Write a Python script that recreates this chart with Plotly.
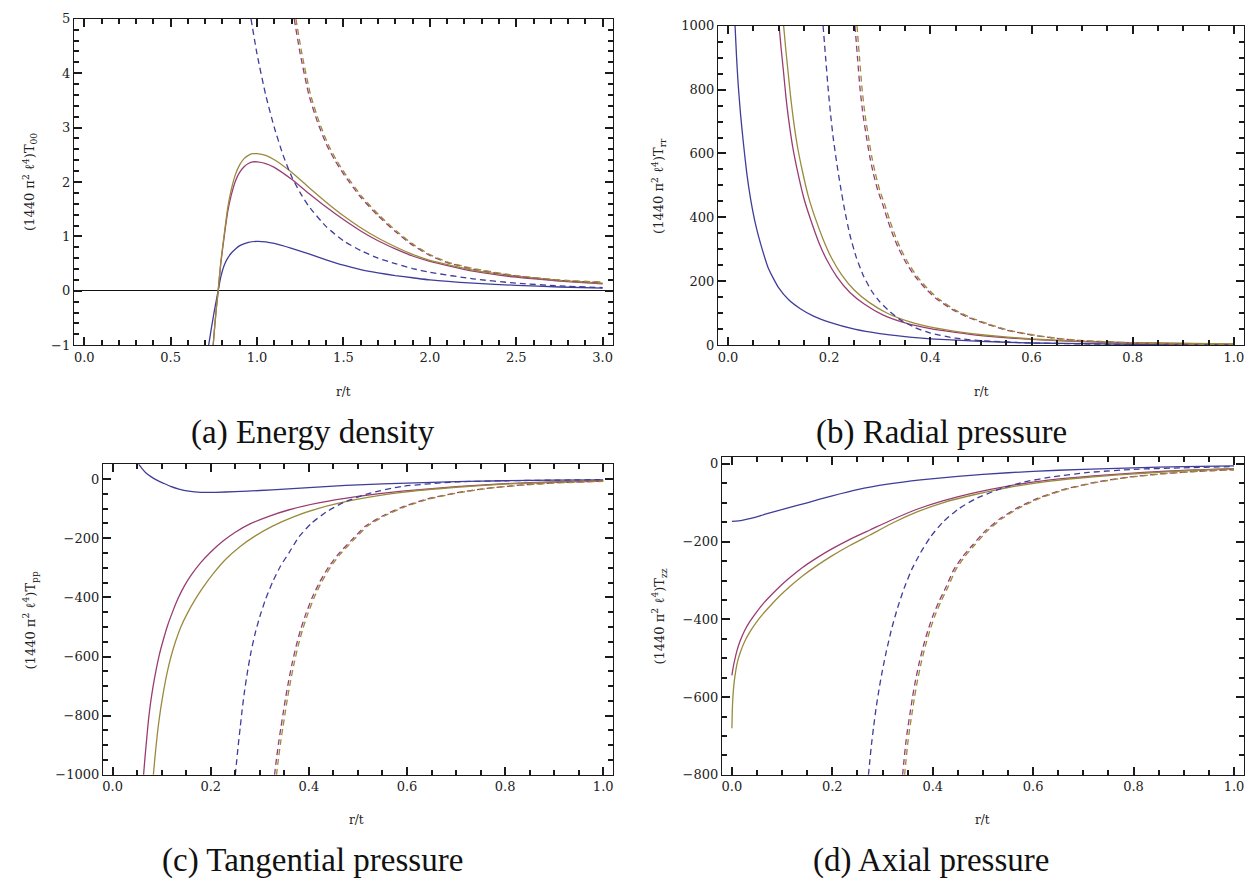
import plotly.graph_objects as go

# ---------------- data ----------------
# Panel (a) Energy density
a_x_blue = [0.72, 0.735, 0.75, 0.765, 0.775, 0.79, 0.81, 0.83, 0.85, 0.875, 0.9, 0.95, 1.0, 1.05, 1.1, 1.2, 1.3, 1.4, 1.5, 1.6, 1.7, 1.8, 1.9, 2.0, 2.25, 2.5, 2.75, 3.0]
a_blue = [-1.0, -0.7, -0.42, -0.16, 0.0, 0.25, 0.47, 0.6, 0.69, 0.77, 0.83, 0.89, 0.91, 0.9, 0.87, 0.78, 0.68, 0.57, 0.47, 0.39, 0.33, 0.28, 0.24, 0.2, 0.14, 0.1, 0.07, 0.05]
a_x_mag = [0.746, 0.755, 0.765, 0.775, 0.79, 0.81, 0.83, 0.85, 0.875, 0.9, 0.925, 0.95, 0.975, 1.0, 1.05, 1.1, 1.2, 1.3, 1.4, 1.5, 1.6, 1.7, 1.8, 1.9, 2.0, 2.25, 2.5, 2.75, 3.0]
a_mag = [-1.0, -0.65, -0.3, 0.0, 0.5, 1.0, 1.45, 1.75, 2.02, 2.18, 2.28, 2.34, 2.37, 2.37, 2.34, 2.27, 2.05, 1.79, 1.54, 1.31, 1.1, 0.92, 0.77, 0.64, 0.54, 0.36, 0.25, 0.18, 0.13]
a_x_olv = [0.746, 0.755, 0.765, 0.775, 0.79, 0.81, 0.83, 0.85, 0.875, 0.9, 0.925, 0.95, 0.975, 1.0, 1.05, 1.1, 1.2, 1.3, 1.4, 1.5, 1.6, 1.7, 1.8, 1.9, 2.0, 2.25, 2.5, 2.75, 3.0]
a_olv = [-1.0, -0.65, -0.3, 0.0, 0.52, 1.04, 1.52, 1.85, 2.14, 2.32, 2.43, 2.49, 2.52, 2.52, 2.49, 2.41, 2.18, 1.9, 1.63, 1.38, 1.16, 0.97, 0.81, 0.67, 0.56, 0.38, 0.27, 0.19, 0.14]
a_x_bd = [0.965, 1.0, 1.05, 1.1, 1.15, 1.2, 1.25, 1.3, 1.4, 1.5, 1.6, 1.7, 1.8, 1.9, 2.0, 2.25, 2.5, 2.75, 3.0]
a_bd = [5.0, 4.35, 3.6, 3.0, 2.5, 2.1, 1.8, 1.55, 1.18, 0.92, 0.74, 0.6, 0.5, 0.41, 0.34, 0.22, 0.14, 0.09, 0.06]
a_x_md = [1.215, 1.25, 1.3, 1.35, 1.4, 1.45, 1.5, 1.6, 1.7, 1.8, 1.9, 2.0, 2.1, 2.25, 2.5, 2.75, 3.0]
a_md = [5.0, 4.35, 3.6, 3.1, 2.7, 2.4, 2.15, 1.72, 1.38, 1.09, 0.84, 0.65, 0.52, 0.4, 0.27, 0.19, 0.15]
a_x_od = [1.225, 1.26, 1.31, 1.36, 1.41, 1.46, 1.51, 1.61, 1.71, 1.81, 1.91, 2.01, 2.11, 2.25, 2.5, 2.75, 3.0]
a_od = [5.0, 4.35, 3.6, 3.1, 2.7, 2.4, 2.15, 1.72, 1.38, 1.09, 0.84, 0.65, 0.52, 0.41, 0.28, 0.2, 0.16]

# Panel (b) Radial pressure
b_x_blue = [0.014, 0.017, 0.02, 0.025, 0.03, 0.037, 0.045, 0.055, 0.065, 0.08, 0.1, 0.12, 0.143, 0.17, 0.2, 0.25, 0.3, 0.35, 0.4, 0.5, 0.6, 0.8, 1.0]
b_blue = [1000, 900, 820, 720, 640, 540, 455, 375, 315, 240, 180, 142, 114, 90, 72, 50, 36, 27, 20, 12, 7, 3, 1.5]
b_x_mag = [0.101, 0.105, 0.11, 0.115, 0.12, 0.128, 0.137, 0.15, 0.163, 0.18, 0.196, 0.215, 0.241, 0.27, 0.306, 0.35, 0.4, 0.45, 0.5, 0.6, 0.7, 0.8, 1.0]
b_mag = [1000, 930, 852, 770, 705, 620, 548, 460, 395, 320, 265, 215, 165, 128, 95, 70, 52, 40, 30, 18, 11, 7, 3]
b_x_olv = [0.11, 0.114, 0.119, 0.124, 0.129, 0.137, 0.146, 0.159, 0.172, 0.189, 0.205, 0.224, 0.25, 0.279, 0.315, 0.358, 0.406, 0.456, 0.506, 0.6, 0.7, 0.8, 1.0]
b_olv = [1000, 930, 852, 775, 710, 625, 553, 465, 400, 328, 272, 222, 172, 134, 100, 74, 55, 42, 32, 19.5, 12, 8, 4]
b_x_bd = [0.188, 0.193, 0.198, 0.203, 0.208, 0.215, 0.222, 0.231, 0.241, 0.253, 0.267, 0.283, 0.3, 0.32, 0.34, 0.37, 0.4, 0.45, 0.5, 0.6, 0.8, 1.0]
b_bd = [1000, 900, 803, 720, 649, 570, 500, 420, 345, 278, 220, 172, 136, 105, 80, 55, 38, 22, 14, 7, 2, 1]
b_x_md = [0.251, 0.256, 0.261, 0.267, 0.274, 0.28, 0.287, 0.296, 0.306, 0.316, 0.326, 0.338, 0.353, 0.37, 0.39, 0.41, 0.443, 0.475, 0.51, 0.55, 0.6, 0.65, 0.7, 0.8, 0.9, 1.0]
b_md = [1000, 900, 803, 720, 649, 592, 540, 485, 440, 390, 345, 300, 255, 215, 178, 148, 112, 87, 67, 47, 32, 21, 14, 7, 3, 1.5]
b_x_od = [0.255, 0.26, 0.265, 0.271, 0.278, 0.284, 0.291, 0.3, 0.31, 0.32, 0.33, 0.342, 0.357, 0.374, 0.394, 0.414, 0.447, 0.479, 0.514, 0.554, 0.604, 0.654, 0.704, 0.8, 0.9, 1.0]
b_od = [1000, 900, 803, 720, 649, 592, 540, 485, 440, 390, 345, 300, 255, 215, 178, 148, 112, 87, 67, 47, 32, 21, 14, 7.5, 3.5, 1.6]

# Panel (c) Tangential pressure
c_x_blue = [0.053, 0.06, 0.068, 0.078, 0.09, 0.103, 0.118, 0.135, 0.155, 0.18, 0.21, 0.25, 0.3, 0.35, 0.4, 0.45, 0.5, 0.6, 0.7, 0.8, 0.9, 1.0]
c_blue = [50, 35, 20, 8, -4, -14, -25, -34, -41, -45, -45, -43, -39, -34, -29, -24, -20, -14, -9, -6, -4, -3]
c_x_mag = [0.063, 0.066, 0.069, 0.073, 0.077, 0.082, 0.088, 0.095, 0.103, 0.112, 0.122, 0.133, 0.146, 0.16, 0.18, 0.2, 0.225, 0.25, 0.28, 0.317, 0.36, 0.42, 0.5, 0.59, 0.7, 0.8, 0.9, 1.0]
c_mag = [-1000, -940, -885, -815, -760, -705, -650, -595, -545, -495, -450, -405, -362, -325, -282, -247, -210, -180, -152, -127, -104, -81, -59, -41, -26, -16, -10, -6]
c_x_olv = [0.083, 0.086, 0.089, 0.093, 0.098, 0.104, 0.111, 0.119, 0.128, 0.139, 0.152, 0.168, 0.185, 0.205, 0.23, 0.26, 0.29, 0.325, 0.37, 0.42, 0.5, 0.59, 0.7, 0.8, 0.9, 1.0]
c_olv = [-1000, -945, -895, -835, -775, -715, -655, -600, -550, -500, -455, -408, -365, -320, -272, -228, -193, -160, -127, -99, -68, -45, -28, -17, -11, -7]
c_x_bd = [0.25, 0.253, 0.256, 0.26, 0.264, 0.269, 0.275, 0.282, 0.29, 0.3, 0.312, 0.326, 0.342, 0.36, 0.38, 0.405, 0.435, 0.47, 0.52, 0.59, 0.7, 0.8, 0.9, 1.0]
c_bd = [-1000, -950, -900, -840, -780, -715, -650, -585, -525, -465, -405, -348, -295, -248, -195, -150, -112, -80, -50, -25, -10, -6, -4, -2]
c_x_md = [0.33, 0.334, 0.338, 0.343, 0.348, 0.353, 0.359, 0.366, 0.374, 0.383, 0.394, 0.407, 0.422, 0.44, 0.46, 0.485, 0.515, 0.55, 0.59, 0.64, 0.7, 0.76, 0.83, 0.9, 1.0]
c_md = [-1000, -945, -895, -840, -787, -735, -680, -622, -565, -510, -455, -400, -348, -298, -254, -210, -160, -125, -95, -68, -47, -32, -21, -13, -7]
c_x_od = [0.334, 0.338, 0.342, 0.347, 0.352, 0.357, 0.363, 0.37, 0.378, 0.387, 0.398, 0.411, 0.426, 0.444, 0.464, 0.489, 0.519, 0.554, 0.594, 0.644, 0.704, 0.764, 0.834, 0.9, 1.0]
c_od = [-1000, -945, -895, -840, -787, -735, -680, -622, -565, -510, -455, -400, -348, -298, -254, -210, -160, -125, -95, -68, -47, -32, -21, -14, -8]

# Panel (d) Axial pressure
d_x_blue = [0.0, 0.02, 0.042, 0.07, 0.11, 0.15, 0.2, 0.25, 0.31, 0.376, 0.45, 0.5, 0.6, 0.7, 0.8, 0.9, 1.0]
d_blue = [-148, -145, -139, -128, -114, -100, -82, -66, -52, -41, -32, -27, -19, -14, -10, -7, -5]
d_x_mag = [0.0, 0.003, 0.006, 0.01, 0.016, 0.025, 0.035, 0.048, 0.062, 0.078, 0.095, 0.115, 0.14, 0.17, 0.2, 0.235, 0.275, 0.32, 0.37, 0.42, 0.48, 0.55, 0.63, 0.72, 0.82, 0.91, 1.0]
d_mag = [-544, -520, -502, -481, -457, -430, -407, -383, -360, -338, -316, -293, -267, -241, -218, -194, -170, -143, -116, -95, -75, -57, -42, -31, -22, -16, -12]
d_x_olv = [0.0, 0.0005, 0.001, 0.002, 0.004, 0.007, 0.011, 0.017, 0.025, 0.035, 0.048, 0.062, 0.078, 0.095, 0.115, 0.14, 0.17, 0.2, 0.235, 0.275, 0.32, 0.37, 0.42, 0.48, 0.55, 0.63, 0.72, 0.82, 0.91, 1.0]
d_olv = [-680, -650, -628, -600, -568, -538, -510, -484, -458, -434, -409, -386, -363, -340, -316, -289, -261, -236, -210, -183, -152, -123, -100, -80, -61, -45, -33, -24, -17, -13]
d_x_bd = [0.272, 0.275, 0.278, 0.282, 0.287, 0.293, 0.3, 0.308, 0.318, 0.33, 0.343, 0.358, 0.376, 0.396, 0.42, 0.45, 0.485, 0.53, 0.58, 0.64, 0.71, 0.8, 0.9, 1.0]
d_bd = [-800, -760, -722, -679, -630, -580, -530, -480, -425, -370, -320, -272, -228, -187, -150, -117, -90, -66, -47, -33, -22, -14, -10, -7]
d_x_md = [0.34, 0.343, 0.346, 0.35, 0.355, 0.36, 0.366, 0.373, 0.381, 0.39, 0.4, 0.412, 0.426, 0.442, 0.46, 0.48, 0.505, 0.535, 0.57, 0.61, 0.66, 0.72, 0.79, 0.86, 0.93, 1.0]
d_md = [-800, -760, -722, -682, -640, -598, -555, -512, -470, -430, -392, -355, -318, -272, -238, -208, -172, -140, -112, -88, -66, -48, -34, -25, -19, -15]
d_x_od = [0.344, 0.347, 0.35, 0.354, 0.359, 0.364, 0.37, 0.377, 0.385, 0.394, 0.404, 0.416, 0.43, 0.446, 0.464, 0.484, 0.509, 0.539, 0.574, 0.614, 0.664, 0.724, 0.794, 0.864, 0.93, 1.0]
d_od = [-800, -760, -722, -682, -640, -598, -555, -512, -470, -430, -392, -355, -318, -272, -238, -208, -172, -140, -112, -88, -66, -48, -34, -25, -19, -15]

captions = ["(a) Energy density", "(b) Radial pressure", "(c) Tangential pressure", "(d) Axial pressure"]
y_titles = [
    "(1440 π<sup>2</sup> ℓ<sup>4</sup>)T<sub>00</sub>",
    "(1440 π<sup>2</sup> ℓ<sup>4</sup>)T<sub>rr</sub>",
    "(1440 π<sup>2</sup> ℓ<sup>4</sup>)T<sub>pp</sub>",
    "(1440 π<sup>2</sup> ℓ<sup>4</sup>)T<sub>zz</sub>",
]
x_title = "r/t"

# ---------------- styling ----------------
W, H = 1255, 892
BLUE, MAG, OLV = "#3f3d99", "#993d71", "#998b3d"
FRAME = "#1a1a1a"
SERIF = "Liberation Serif, Times New Roman, Times, DejaVu Serif, serif"
TICKSERIF = "DejaVu Serif, Liberation Serif, serif"
TICKFONT = dict(family=TICKSERIF, size=13, color="#222222")

fig = go.Figure()

def add(xs, ys, color, dash, k):
    sfx = "" if k == 1 else str(k)
    fig.add_trace(go.Scatter(
        x=xs, y=ys, mode="lines",
        line=dict(color=color, width=1.3, dash=dash, shape="spline", smoothing=0.5),
        xaxis="x" + sfx, yaxis="y" + sfx, showlegend=False, hoverinfo="skip"))

DASH = "6px,4px"
panel_data = [
    [(a_x_blue, a_blue, BLUE, "solid"), (a_x_mag, a_mag, MAG, "solid"), (a_x_olv, a_olv, OLV, "solid"),
     (a_x_bd, a_bd, BLUE, DASH), (a_x_md, a_md, MAG, DASH), (a_x_od, a_od, OLV, DASH)],
    [(b_x_blue, b_blue, BLUE, "solid"), (b_x_mag, b_mag, MAG, "solid"), (b_x_olv, b_olv, OLV, "solid"),
     (b_x_bd, b_bd, BLUE, DASH), (b_x_md, b_md, MAG, DASH), (b_x_od, b_od, OLV, DASH)],
    [(c_x_blue, c_blue, BLUE, "solid"), (c_x_mag, c_mag, MAG, "solid"), (c_x_olv, c_olv, OLV, "solid"),
     (c_x_bd, c_bd, BLUE, DASH), (c_x_md, c_md, MAG, DASH), (c_x_od, c_od, OLV, DASH)],
    [(d_x_blue, d_blue, BLUE, "solid"), (d_x_mag, d_mag, MAG, "solid"), (d_x_olv, d_olv, OLV, "solid"),
     (d_x_bd, d_bd, BLUE, DASH), (d_x_md, d_md, MAG, DASH), (d_x_od, d_od, OLV, DASH)],
]
for k, traces in enumerate(panel_data, start=1):
    for xs, ys, c, d in traces:
        add(xs, ys, c, d, k)

# plot-area pixel boxes: (left, right, top, bottom)
boxes = [(73, 613, 12, 344), (718, 1245, 19, 344), (102, 613, 465, 781), (722, 1245, 458, 781)]
x_ranges = [[-0.06, 3.06], [-0.02, 1.02], [-0.02, 1.02], [-0.02, 1.02]]
y_ranges = [[-1, 5], [0, 1000], [-1000, 50], [-800, 17]]
x_major = [0.5, 0.2, 0.2, 0.2]
x_minor = [0.1, 0.05, 0.05, 0.05]
y_major = [1, 200, 200, 200]
y_minor = [0.2, 50, 50, 50]

layout_axes = {}
for k in range(4):
    l, r, t, b = boxes[k]
    sfx = "" if k == 0 else str(k + 1)
    common = dict(ticks="inside", ticklen=8, tickwidth=2, tickcolor=FRAME,
                  showline=True, linecolor=FRAME, linewidth=1, mirror="ticks",
                  showgrid=False, zeroline=False, tickfont=TICKFONT)
    xa = dict(common, range=x_ranges[k], dtick=x_major[k], tick0=0, tickformat=".1f",
              minor=dict(dtick=x_minor[k], ticks="inside", ticklen=5, tickwidth=2,
                         tickcolor=FRAME, showgrid=False),
              domain=[l / W, r / W], anchor="y" + sfx)
    ya = dict(common, range=y_ranges[k], dtick=y_major[k], tick0=0,
              minor=dict(dtick=y_minor[k], ticks="inside", ticklen=5, tickwidth=2,
                         tickcolor=FRAME, showgrid=False),
              domain=[1 - b / H, 1 - t / H], anchor="x" + sfx)
    if k == 0:
        ya.update(zeroline=True, zerolinecolor="#111111", zerolinewidth=1.4)
    layout_axes["xaxis" + sfx] = xa
    layout_axes["yaxis" + sfx] = ya

ann = []
def px_ann(text, x, y, size, family, angle=0, color="#222222"):
    ann.append(dict(text=text, x=x / W, y=1 - y / H, xref="paper", yref="paper",
                    xanchor="center", yanchor="middle", showarrow=False, textangle=angle,
                    font=dict(family=family, size=size, color=color)))

cap_pos = [(312, 433), (942, 433), (312, 868), (931, 868)]
for cap, (cx, cy) in zip(captions, cap_pos):
    px_ann(cap, cx, cy, 33, SERIF, color="#111111")

ytitle_pos = [(29, 178), (659, 182), (29, 624), (659, 620)]
for t, (tx, ty) in zip(y_titles, ytitle_pos):
    px_ann(t, tx, ty, 13, TICKSERIF, angle=-90)

xtitle_pos = [(343, 392), (982, 392), (356, 827), (983, 827)]
for tx, ty in xtitle_pos:
    px_ann(x_title, tx, ty, 12, TICKSERIF)

fig.update_layout(
    width=W, height=H, margin=dict(l=0, r=0, t=0, b=0),
    paper_bgcolor="white", plot_bgcolor="white",
    annotations=ann, **layout_axes)

fig.write_html("out.html")
